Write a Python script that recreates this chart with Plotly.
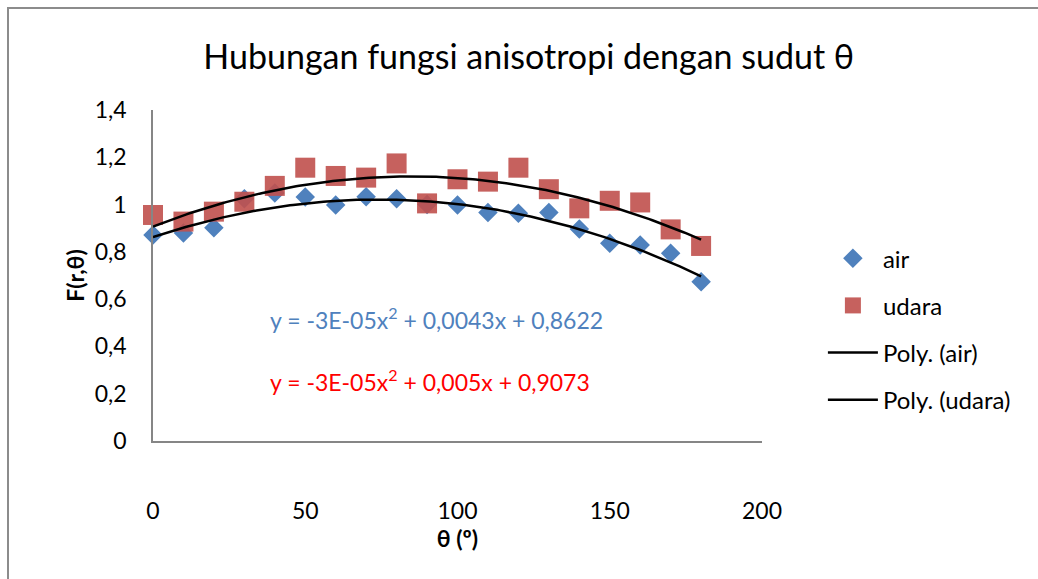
import numpy as np
import plotly.graph_objects as go

# Sudut theta (derajat)
theta = [0, 10, 20, 30, 40, 50, 60, 70, 80, 90, 100, 110, 120, 130, 140, 150, 160, 170, 180]

# Fungsi anisotropi F(r, theta)
f_air = [0.871, 0.880, 0.902, 1.025, 1.049, 1.032, 0.998, 1.033, 1.025, 1.000, 0.998,
         0.966, 0.963, 0.966, 0.897, 0.836, 0.829, 0.794, 0.674]
f_udara = [0.956, 0.928, 0.970, 1.012, 1.079, 1.156, 1.121, 1.114, 1.174, 1.005, 1.107,
           1.097, 1.156, 1.065, 0.984, 1.016, 1.009, 0.895, 0.825]

# Koefisien trendline polinomial orde 2 (a, b, c): y = a x^2 + b x + c
coef_air = [-2.9e-05, 0.0043, 0.8622]
coef_udara = [-2.95e-05, 0.0050, 0.9073]

FONT = "Lato, 'Open Sans', sans-serif"
BLUE = "#4F81BD"
RED = "#C0504D"
AXIS = "#868686"


def eq_text(c):
    a, b, d = c
    a_txt = f"{a:.0E}"
    b_txt = f"{b:g}".replace(".", ",")
    d_txt = f"{d:g}".replace(".", ",")
    return f"y = {a_txt}x<sup>2</sup> + {b_txt}x + {d_txt}"


xs = np.linspace(theta[0], theta[-1], 181)

fig = go.Figure()
fig.add_trace(go.Scatter(
    x=theta, y=f_air, mode="markers", name="air", legendgroup="g1",
    marker=dict(symbol="diamond", size=15, color=BLUE), cliponaxis=False))
fig.add_trace(go.Scatter(
    x=theta, y=f_udara, mode="markers", name="udara", legendgroup="g2",
    marker=dict(symbol="square", size=20, color=RED, opacity=0.9), cliponaxis=False))
fig.add_trace(go.Scatter(
    x=xs, y=np.polyval(coef_air, xs), mode="lines", name="Poly. (air)", legendgroup="g3",
    line=dict(color="black", width=2.5)))
fig.add_trace(go.Scatter(
    x=xs, y=np.polyval(coef_udara, xs), mode="lines", name="Poly. (udara)", legendgroup="g4",
    line=dict(color="black", width=2.5)))

fig.add_annotation(x=37.8, y=0.52, xref="x", yref="y", xanchor="left", yanchor="middle",
                   text=eq_text(coef_air), showarrow=False,
                   font=dict(family=FONT, size=23, color=BLUE))
fig.add_annotation(x=37.8, y=0.254, xref="x", yref="y", xanchor="left", yanchor="middle",
                   text=eq_text(coef_udara), showarrow=False,
                   font=dict(family=FONT, size=23, color="#FF0000"))

# Bingkai luar grafik
fig.add_shape(type="rect", xref="paper", yref="paper",
              x0=-0.2381, x1=1.47, y0=-0.46, y1=1.308,
              line=dict(color="#8C8C8C", width=2), fillcolor="rgba(0,0,0,0)")

fig.update_layout(
    width=1038, height=579, autosize=False,
    margin=dict(l=153, r=276, t=110, b=138),
    paper_bgcolor="white", plot_bgcolor="white",
    separators=",.",
    font=dict(family=FONT, size=23, color="black"),
    title=dict(text="Hubungan fungsi anisotropi dengan sudut θ",
               x=0.617, xref="paper", xanchor="center",
               y=1 - 57 / 579, yref="container", yanchor="middle",
               font=dict(family=FONT, size=34, color="black")),
    showlegend=True,
    legend=dict(x=1.1, y=0.619, xanchor="left", yanchor="top",
                bgcolor="rgba(0,0,0,0)", itemwidth=50, tracegroupgap=13,
                font=dict(family=FONT, size=24, color="black")),
    xaxis=dict(range=[0, 200], dtick=50, tick0=0, showgrid=False, zeroline=False,
               showline=True, linecolor=AXIS, linewidth=1.5, ticks="",
               ticklabelstandoff=49,
               title=dict(text="<b>θ (º)</b>", standoff=0,
                          font=dict(family=FONT, size=23))),
    yaxis=dict(range=[0, 1.4], dtick=0.2, tick0=0, showgrid=False, zeroline=False,
               showline=True, linecolor=AXIS, linewidth=1.5, ticks="",
               ticklabelstandoff=20,
               title=dict(text="<b>F(r,θ)</b>", standoff=4,
                          font=dict(family=FONT, size=23))),
)

fig.write_html("out.html")
